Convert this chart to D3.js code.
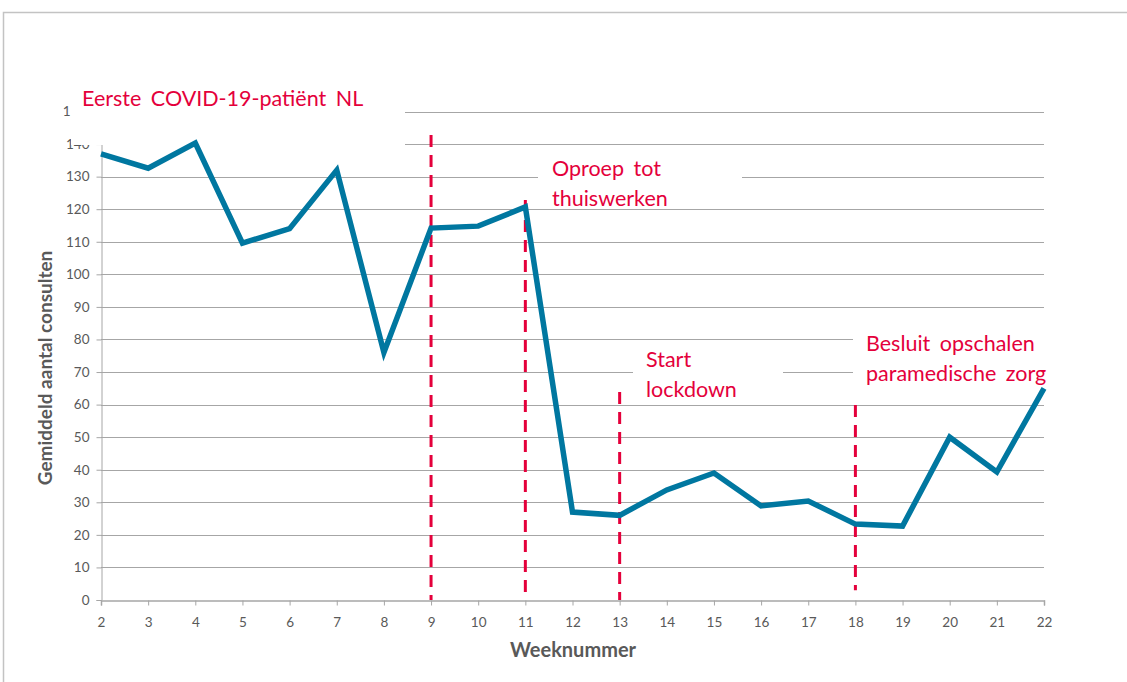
<!DOCTYPE html>
<html>
<head>
<meta charset="utf-8">
<script src="https://cdn.jsdelivr.net/npm/d3@7"></script>
<style>
  body { margin: 0; background: #fff; }
  svg { display: block; font-family: Lato, "Open Sans", sans-serif; }
</style>
</head>
<body>
<svg id="chart" width="1127" height="682"></svg>
<script>
// weekly average consultations
const weeks = [2, 3, 4, 5, 6, 7, 8, 9, 10, 11, 12, 13, 14, 15, 16, 17, 18, 19, 20, 21, 22];
const consults = [137, 132.6, 140.3, 109.6, 114, 132, 76, 114.2, 114.8, 120.7, 27, 26, 33.8, 39, 28.9, 30.4, 23.3, 22.7, 50, 39.3, 65];
const yTicks = [0, 10, 20, 30, 40, 50, 60, 70, 80, 90, 100, 110, 120, 130, 140, 150];

// event markers: week, top/bottom of the dashed line (in data units), label lines
const eventWeeks = [9, 11, 13, 18];
const eventTops = [142.8, 122.8, 63.9, 59.9];
const eventBottoms = [0, 0, 0, 3];
const eventLabels = [
  ["Eerste COVID-19-patiënt NL"],
  ["Oproep tot", "thuiswerken"],
  ["Start", "lockdown"],
  ["Besluit opschalen", "paramedische zorg"]
];

// label boxes (white background that hides gridlines), pixel layout
const labelBoxes = [
  {x: 71, y: 78, w: 334, h: 67, tx: 82, ty: 106},
  {x: 538, y: 150, w: 204, h: 50, tx: 552, ty: 176},
  {x: 633, y: 345, w: 150, h: 52, tx: 646, ty: 367},
  {x: 853, y: 330, w: 212, h: 62, tx: 866, ty: 351}
];

const svg = d3.select("#chart");
const grey = "#595959";
const red = "#e4003b";

const x = d3.scaleLinear().domain([2, 22]).range([101, 1044]);
const y = d3.scaleLinear().domain([0, 150]).range([600, 111.5]);

// outer frame
svg.append("path")
  .attr("d", "M3.5,682 V12.5 H1127")
  .attr("fill", "none")
  .attr("stroke", "#c3c3c3")
  .attr("stroke-width", 1.5);

// gridlines
svg.append("g")
  .selectAll("line")
  .data(yTicks.filter(d => d > 0))
  .enter().append("line")
  .attr("x1", x(2)).attr("x2", x(22))
  .attr("y1", d => Math.round(y(d)) + 0.5).attr("y2", d => Math.round(y(d)) + 0.5)
  .attr("stroke", "#a6a6a6")
  .attr("stroke-width", 1);

// y axis (top label is mostly hidden behind the first annotation box)
const yAxis = svg.append("g")
  .attr("transform", `translate(${x(2) + 0.5},0)`)
  .call(d3.axisLeft(y).tickValues(yTicks).tickSize(5).tickPadding(7)
    .tickFormat(d => d === 150 ? "1" : d));
yAxis.select(".domain").attr("stroke", "#a6a6a6");
yAxis.selectAll(".tick line").attr("stroke", "#a6a6a6");
yAxis.selectAll("text").attr("fill", grey).style("font-size", "13.5px").style("font-family", "Lato, sans-serif");
yAxis.selectAll(".tick").filter(d => d === 150).select("text").attr("x", -31);

// x axis
const xAxis = svg.append("g")
  .attr("transform", `translate(0,${Math.round(y(0)) + 0.5})`)
  .call(d3.axisBottom(x).tickValues(weeks).tickFormat(d3.format("d")).tickSize(5).tickPadding(12));
xAxis.select(".domain").attr("stroke", "#a6a6a6").attr("stroke-width", 1.5);
xAxis.selectAll(".tick line").attr("stroke", "#a6a6a6");
xAxis.selectAll("text").attr("fill", grey).style("font-size", "13.5px").style("font-family", "Lato, sans-serif");

// white boxes behind annotation text
svg.append("g")
  .selectAll("rect")
  .data(labelBoxes)
  .enter().append("rect")
  .attr("x", d => d.x).attr("y", d => d.y)
  .attr("width", d => d.w).attr("height", d => d.h)
  .attr("fill", "#fff");

// dashed event lines
svg.append("g")
  .selectAll("line")
  .data(eventWeeks)
  .enter().append("line")
  .attr("x1", d => x(d)).attr("x2", d => x(d))
  .attr("y1", (d, i) => y(eventTops[i]))
  .attr("y2", (d, i) => y(eventBottoms[i]))
  .attr("stroke", red)
  .attr("stroke-width", 3)
  .attr("stroke-dasharray", "12,8");

// data line
svg.append("path")
  .datum(weeks.map((w, i) => [w, consults[i]]))
  .attr("fill", "none")
  .attr("stroke", "#0077a0")
  .attr("stroke-width", 5.5)
  .attr("stroke-linejoin", "miter")
  .attr("d", d3.line().x(d => x(d[0])).y(d => y(d[1])));

// annotation text
labelBoxes.forEach((b, i) => {
  const t = svg.append("text")
    .attr("x", b.tx).attr("y", b.ty)
    .attr("fill", red)
    .style("font-size", "21.5px")
    .style("word-spacing", "4px");
  eventLabels[i].forEach((line, j) => {
    t.append("tspan").attr("x", b.tx).attr("dy", j === 0 ? 0 : 30).text(line);
  });
});

// axis titles
svg.append("text")
  .attr("x", 573).attr("y", 657)
  .attr("text-anchor", "middle")
  .attr("fill", grey)
  .style("font-size", "20px").style("font-weight", "bold")
  .text("Weeknummer");

svg.append("text")
  .attr("transform", "translate(52,368) rotate(-90)")
  .attr("text-anchor", "middle")
  .attr("fill", grey)
  .style("font-size", "19px").style("font-weight", "bold")
  .text("Gemiddeld aantal consulten");
</script>
</body>
</html>
